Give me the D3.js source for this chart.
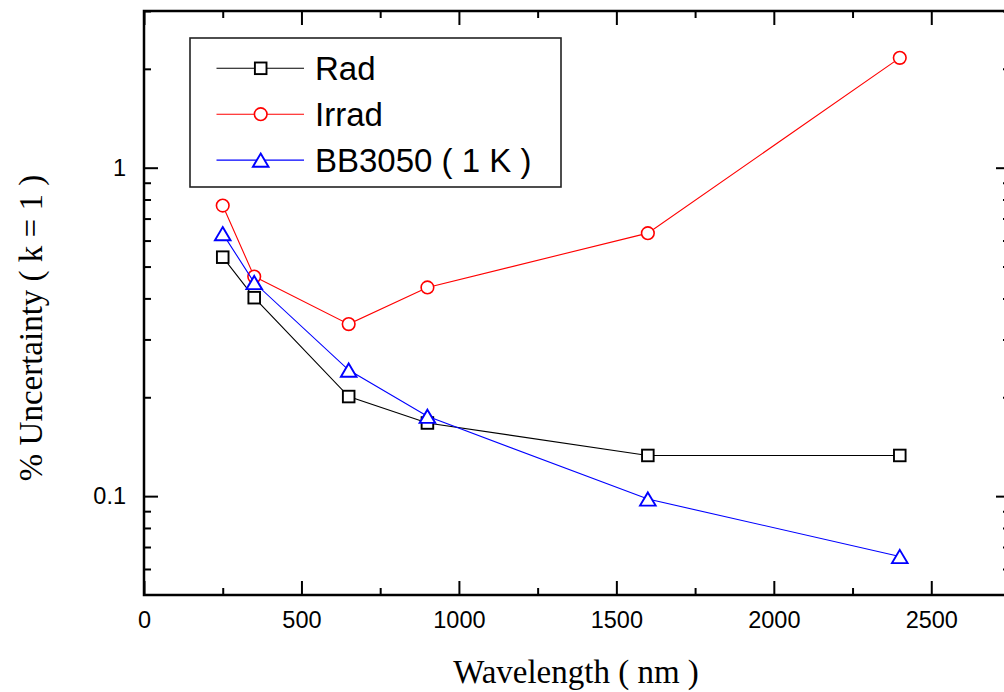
<!DOCTYPE html>
<html>
<head>
<meta charset="utf-8">
<script src="https://cdn.jsdelivr.net/npm/d3@7"></script>
<style>
  html, body { margin: 0; padding: 0; background: #fff; }
  svg { display: block; }
</style>
</head>
<body>
<svg id="chart" width="1004" height="692"></svg>
<script>
// Wavelength grid (nm) and the relative uncertainty of each scale (% , k = 1)
const wavelengths = [250, 350, 650, 900, 1600, 2400];
const radValues   = [0.534, 0.402, 0.201, 0.167, 0.133, 0.133];
const irradValues = [0.767, 0.466, 0.334, 0.432, 0.632, 2.16];
const bbValues    = [0.63, 0.447, 0.242, 0.175, 0.098, 0.0655];

const seriesNames  = ["Rad", "Irrad", "BB3050 ( 1 K )"];
const seriesColors = ["#000000", "#ff0000", "#0000ff"];
const seriesShapes = ["square", "circle", "triangle"];

const xMajorTicks = [0, 500, 1000, 1500, 2000, 2500];
const xMinorTicks = [250, 750, 1250, 1750, 2250];
const yMajorTicks = [0.1, 1];
const yMinorTicks = [0.06, 0.07, 0.08, 0.09, 0.2, 0.3, 0.4, 0.5, 0.6, 0.7, 0.8, 0.9, 2, 3];

const xTitle = "Wavelength ( nm )";
const yTitle = "% Uncertainty ( k = 1 )";

const series = [radValues, irradValues, bbValues].map((vals, i) => ({
  name: seriesNames[i],
  color: seriesColors[i],
  shape: seriesShapes[i],
  points: wavelengths.map((w, j) => ({ x: w, y: vals[j] }))
}));

const plot = { left: 144, right: 1010, top: 11, bottom: 595 };

const x = d3.scaleLinear().domain([0, 2750]).range([plot.left, plot.right]);
const y = d3.scaleLog().domain([0.05, 3]).range([plot.bottom, plot.top]);

const svg = d3.select("#chart");

// marker glyphs
function drawMarker(g, shape, color, cx, cy) {
  if (shape === "square") {
    g.append("rect")
      .attr("x", cx - 5.8).attr("y", cy - 5.8)
      .attr("width", 11.6).attr("height", 11.6)
      .attr("fill", "#fff").attr("stroke", color).attr("stroke-width", 1.9);
  } else if (shape === "circle") {
    g.append("circle")
      .attr("cx", cx).attr("cy", cy).attr("r", 6.3)
      .attr("fill", "#fff").attr("stroke", color).attr("stroke-width", 1.6);
  } else {
    g.append("path")
      .attr("d", `M${cx},${cy - 6.6}L${cx + 7.8},${cy + 6.6}L${cx - 7.8},${cy + 6.6}Z`)
      .attr("fill", "#fff").attr("stroke", color).attr("stroke-width", 1.9)
      .attr("stroke-linejoin", "miter");
  }
}

// axes: ticks point into the plot area
const tickFont = "'Liberation Sans', Arial, sans-serif";
function styleAxis(g) {
  g.select(".domain").remove();
  g.selectAll(".tick line").attr("stroke", "#000").attr("stroke-width", 2);
  g.selectAll(".tick text").attr("fill", "#000")
    .style("font-family", tickFont).style("font-size", "23.5px");
}

svg.append("g").attr("transform", `translate(0,${plot.bottom})`)
  .call(d3.axisBottom(x).tickValues(xMajorTicks).tickFormat(d3.format("d"))
    .tickSizeInner(-14).tickSizeOuter(0).tickPadding(16.5))
  .call(styleAxis);
svg.append("g").attr("transform", `translate(0,${plot.bottom})`)
  .call(d3.axisBottom(x).tickValues(xMinorTicks).tickFormat("")
    .tickSizeInner(-7).tickSizeOuter(0))
  .call(styleAxis);
svg.append("g").attr("transform", `translate(0,${plot.top})`)
  .call(d3.axisTop(x).tickValues(xMajorTicks).tickFormat("")
    .tickSizeInner(-14).tickSizeOuter(0))
  .call(styleAxis);
svg.append("g").attr("transform", `translate(0,${plot.top})`)
  .call(d3.axisTop(x).tickValues(xMinorTicks).tickFormat("")
    .tickSizeInner(-7).tickSizeOuter(0))
  .call(styleAxis);

svg.append("g").attr("transform", `translate(${plot.left},0)`)
  .call(d3.axisLeft(y).tickValues(yMajorTicks).tickFormat(d3.format("~g"))
    .tickSizeInner(-14).tickSizeOuter(0).tickPadding(18))
  .call(styleAxis);
svg.append("g").attr("transform", `translate(${plot.left},0)`)
  .call(d3.axisLeft(y).tickValues(yMinorTicks).tickFormat("")
    .tickSizeInner(-7).tickSizeOuter(0))
  .call(styleAxis);
svg.append("g").attr("transform", `translate(${plot.right},0)`)
  .call(d3.axisRight(y).tickValues(yMajorTicks).tickFormat("")
    .tickSizeInner(-14).tickSizeOuter(0))
  .call(styleAxis);
svg.append("g").attr("transform", `translate(${plot.right},0)`)
  .call(d3.axisRight(y).tickValues(yMinorTicks).tickFormat("")
    .tickSizeInner(-7).tickSizeOuter(0))
  .call(styleAxis);

// frame
svg.append("rect")
  .attr("x", plot.left).attr("y", plot.top)
  .attr("width", plot.right - plot.left).attr("height", plot.bottom - plot.top)
  .attr("fill", "none").attr("stroke", "#000").attr("stroke-width", 2.5);

// data lines and markers
const line = d3.line().x(d => x(d.x)).y(d => y(d.y));
series.forEach(s => {
  const g = svg.append("g");
  g.append("path").datum(s.points)
    .attr("d", line).attr("fill", "none")
    .attr("stroke", s.color).attr("stroke-width", 1.1);
  s.points.forEach(p => drawMarker(g, s.shape, s.color, x(p.x), y(p.y)));
});

// legend
const legend = svg.append("g");
legend.append("rect")
  .attr("x", 190).attr("y", 38).attr("width", 371).attr("height", 149)
  .attr("fill", "#fff").attr("stroke", "#222").attr("stroke-width", 1.6);
series.forEach((s, i) => {
  const ry = 68.3 + i * 45.9;
  legend.append("line")
    .attr("x1", 216.5).attr("x2", 304).attr("y1", ry).attr("y2", ry)
    .attr("stroke", s.color).attr("stroke-width", 1.1);
  drawMarker(legend, s.shape, s.color, 260.7, ry);
  legend.append("text")
    .attr("x", 315).attr("y", ry + 11.8)
    .style("font-family", tickFont).style("font-size", "33px")
    .attr("fill", "#000")
    .text(s.name);
});

// axis titles
const titleFont = "'Liberation Serif', 'Times New Roman', serif";
svg.append("text")
  .attr("x", 576).attr("y", 683)
  .attr("text-anchor", "middle")
  .style("font-family", titleFont).style("font-size", "33px")
  .text(xTitle);
svg.append("text")
  .attr("transform", "translate(42,328) rotate(-90)")
  .attr("text-anchor", "middle")
  .style("font-family", titleFont).style("font-size", "33px")
  .text(yTitle);
</script>
</body>
</html>
